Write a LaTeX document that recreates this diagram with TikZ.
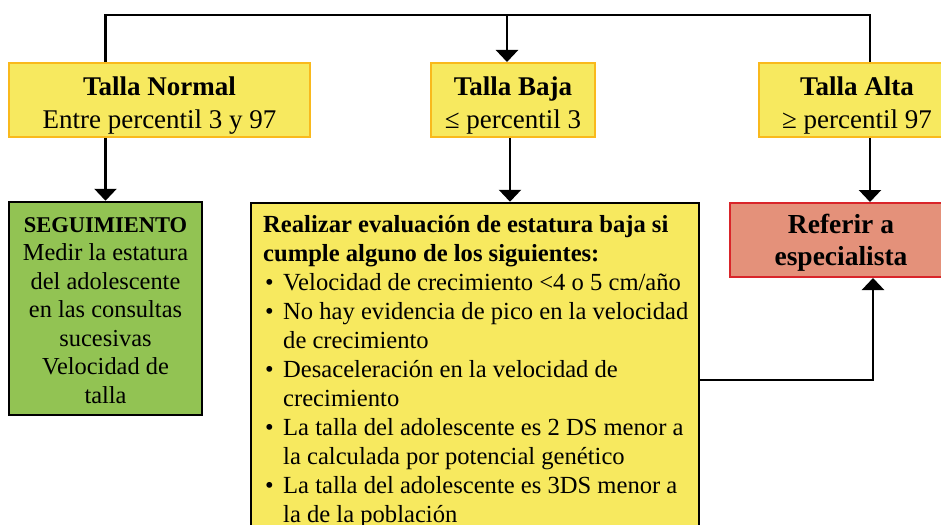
\documentclass[tikz,border=0pt]{standalone}
\usepackage{fontspec}
\setmainfont{Liberation Serif}
\usetikzlibrary{arrows.meta,backgrounds}
\definecolor{boxyellow}{HTML}{F7E95F}
\definecolor{boxgold}{HTML}{F9B91C}
\definecolor{boxgreen}{HTML}{92C353}
\definecolor{boxsalmon}{HTML}{E4917A}
\definecolor{boxred}{HTML}{D9252A}
\tikzset{
  topbox/.style={rectangle, draw=boxgold, fill=boxyellow, line width=2pt, inner sep=0pt, minimum height=74pt},
  blackbox/.style={rectangle, draw=black, line width=2.5pt, inner sep=0pt},
  refbox/.style={rectangle, draw=boxred, fill=boxsalmon, line width=2pt, inner sep=0pt},
  toptext/.style={anchor=north, align=center, inner sep=0pt, font=\fontsize{27}{33}\selectfont},
  bodytext/.style={inner sep=0pt, font=\fontsize{24.6}{29}\selectfont},
  conn/.style={line width=2.6pt, draw=black},
  arr/.style={conn, -{Triangle[width=22pt,length=12pt]}},
}
\newcommand{\fstrut}{\rule{0pt}{20pt}}
\newcommand{\bul}{\makebox[20pt][l]{\hspace{2pt}•}}
\newcommand{\ind}{\hspace*{20pt}}
\begin{document}
\begin{tikzpicture}[x=1pt, y=-1pt]
\useasboundingbox (0,0) rectangle (941,524);
\clip (0,0) rectangle (941,524);

% coordinates for connectors
\coordinate (tm) at (507,15);
\coordinate (tr) at (870,15);
\coordinate (bx) at (510,0);
\coordinate (ry) at (0,380);
\coordinate (rx) at (873,0);

% boxes
\node[topbox, minimum width=301pt] (tn) at (159.5,100) {};
\node[topbox, minimum width=164pt] (tb) at (513,100) {};
\node[topbox, minimum width=196pt] (ta) at (857,100) {};
\node[blackbox, fill=boxgreen, minimum width=193pt, minimum height=213pt] (seg) at (105.5,308.5) {};
\node[blackbox, fill=boxyellow, minimum width=448pt, minimum height=337pt] (big) at (475,371.5) {};
\node[refbox, minimum width=222pt, minimum height=74pt] (ref) at (841,240) {};

% connectors, behind the boxes
\begin{scope}[on background layer]
\fill[white] (0,0) rectangle (941,524);
\draw[arr] (tm) -| (seg.north);
\draw[arr] (tm) -| (ref.north -| tr);
\draw[arr] (tm) -- (tb.north -| tm);
\draw[arr] (tb.south -| bx) -- (big.north -| bx);
\draw[arr] (big.east |- ry) -| (ref.south -| rx);
\end{scope}

% texts
\node[toptext] (tnT) at (159.5,75) {\fstrut\textbf{Talla Normal}\\Entre percentil 3 y 97};
\node[toptext] (tbT) at (513,75) {\fstrut\textbf{Talla Baja}\\≤ percentil 3};
\node[toptext] (taT) at (857,75) {\fstrut\textbf{Talla Alta}\\≥ percentil 97};

\node[bodytext, anchor=north, align=center, font=\fontsize{24.4}{28.5}\selectfont] (segT) at (105.5,212)
  {\fstrut{\bfseries\fontsize{22.5}{28.5}\selectfont SEGUIMIENTO}\\Medir la estatura\\del adolescente\\en las consultas\\sucesivas\\Velocidad de\\talla};

\node[bodytext, anchor=north west, align=left] (bigT) at (263,212)
  {\fstrut\textbf{Realizar evaluación de estatura baja si}\\
   \textbf{cumple alguno de los siguientes:}\\
   \bul Velocidad de crecimiento <4 o 5 cm/año\\
   \bul No hay evidencia de pico en la velocidad\\
   \ind de crecimiento\\
   \bul Desaceleración en la velocidad de\\
   \ind crecimiento\\
   \bul La talla del adolescente es 2 DS menor a\\
   \ind la calculada por potencial genético\\
   \bul La talla del adolescente es 3DS menor a\\
   \ind la de la población};

\node[anchor=north, align=center, inner sep=0pt, font=\fontsize{27.5}{32}\selectfont\bfseries] (refT) at (841,213)
  {\fstrut Referir a\\especialista};
\end{tikzpicture}
\end{document}
